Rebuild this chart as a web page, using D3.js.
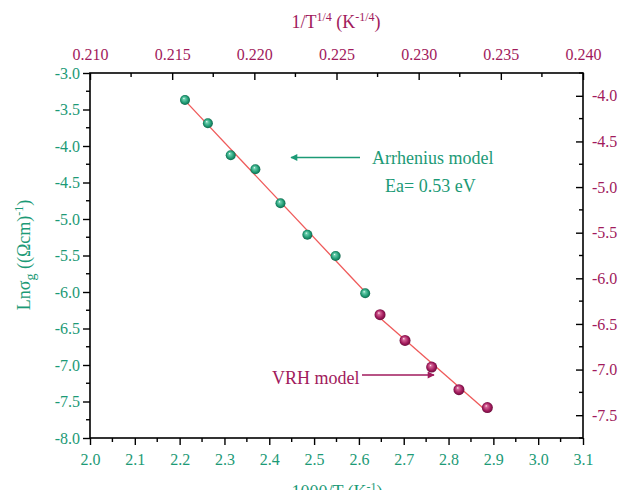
<!DOCTYPE html>
<html>
<head>
<meta charset="utf-8">
<script src="https://cdn.jsdelivr.net/npm/d3@7"></script>
<style>
  html, body { margin: 0; padding: 0; background: #fff; }
  svg { display: block; font-family: "Liberation Serif", "Times New Roman", serif; }
</style>
</head>
<body>
<svg id="chart" width="619" height="490"></svg>
<script>
// Arrhenius regime: 1000/T (K^-1) vs ln(sigma_g)
const arrX = [2.212, 2.263, 2.314, 2.369, 2.425, 2.485, 2.548, 2.614];
const arrY = [-3.370, -3.689, -4.127, -4.319, -4.785, -5.215, -5.507, -6.018];
// VRH regime: T^-1/4 (K^-1/4) vs ln(sigma_g)
const vrhX = [0.22765, 0.22917, 0.23079, 0.23245, 0.23418];
const vrhY = [-6.399, -6.681, -6.973, -7.220, -7.417];

const bottomTicks = [2.0, 2.1, 2.2, 2.3, 2.4, 2.5, 2.6, 2.7, 2.8, 2.9, 3.0, 3.1];
const topTicks = [0.210, 0.215, 0.220, 0.225, 0.230, 0.235, 0.240];
const leftTicks = [-3.0, -3.5, -4.0, -4.5, -5.0, -5.5, -6.0, -6.5, -7.0, -7.5, -8.0];
const rightTicks = [-4.0, -4.5, -5.0, -5.5, -6.0, -6.5, -7.0, -7.5];

const GREEN = "#1c9a76";
const PURPLE = "#a11a5c";
const RED = "#ef5a5a";

const svg = d3.select("#chart");
const m = { left: 90, right: 583, top: 73, bottom: 438 };

const xB = d3.scaleLinear().domain([2.0, 3.1]).range([m.left, m.right]);
const xT = d3.scaleLinear().domain([0.210, 0.240]).range([m.left, m.right]);
const yL = d3.scaleLinear().domain([-8.0, -3.0]).range([m.bottom, m.top]);
const yR = d3.scaleLinear().domain([-7.75, -3.75]).range([m.bottom, m.top]);

const defs = svg.append("defs");
function sphere(id, light, base, dark) {
  const g = defs.append("radialGradient").attr("id", id)
    .attr("cx", "0.5").attr("cy", "0.5").attr("r", "0.55")
    .attr("fx", "0.38").attr("fy", "0.33");
  g.append("stop").attr("offset", "0").attr("stop-color", "#ffffff");
  g.append("stop").attr("offset", "0.18").attr("stop-color", light);
  g.append("stop").attr("offset", "0.65").attr("stop-color", base);
  g.append("stop").attr("offset", "1").attr("stop-color", dark);
}
sphere("gSphere", "#6fd0b0", "#1f9a73", "#0c5a42");
sphere("pSphere", "#d86a9a", "#a11a5c", "#5e0b35");

function arrowHead(id, color) {
  defs.append("marker").attr("id", id)
    .attr("viewBox", "0 0 10 10").attr("refX", 9).attr("refY", 5)
    .attr("markerWidth", 9).attr("markerHeight", 7)
    .attr("markerUnits", "userSpaceOnUse")
    .attr("orient", "auto")
    .append("path").attr("d", "M0,0 L10,5 L0,10 Z").attr("fill", color);
}
arrowHead("arrG", GREEN);
arrowHead("arrP", PURPLE);

// Axes
function styleAxis(g, color) {
  g.attr("font-family", "'Liberation Serif', serif").attr("font-size", 16);
  g.select(".domain").remove();
  g.selectAll(".tick line").attr("stroke", "#000").attr("stroke-width", 1.4);
  g.selectAll(".tick text").attr("fill", color);
}
const hyph = f => v => f(v).replace("\u2212", "-");
const fmt1 = hyph(d3.format(".1f")), fmt3 = hyph(d3.format(".3f"));
const minor = (a, b, s) => d3.range(a, b + s / 2, s);

// minor ticks
const minorB = minor(2.0, 3.1, 0.05).filter(v => Math.abs(v * 10 - Math.round(v * 10)) > 1e-6);
svg.append("g").selectAll("line").data(minorB).join("line")
  .attr("x1", d => xB(d)).attr("x2", d => xB(d)).attr("y1", m.bottom).attr("y2", m.bottom + 4)
  .attr("stroke", "#000").attr("stroke-width", 1.4);
const minorT = minor(0.210, 0.240, 0.0025).filter(v => Math.abs(v * 200 - Math.round(v * 200)) > 1e-6);
svg.append("g").selectAll("line").data(minorT).join("line")
  .attr("x1", d => xT(d)).attr("x2", d => xT(d)).attr("y1", m.top).attr("y2", m.top + 4)
  .attr("stroke", "#000").attr("stroke-width", 1.4);
const minorL = minor(-8.0, -3.0, 0.25).filter(v => Math.abs(v * 2 - Math.round(v * 2)) > 1e-6);
svg.append("g").selectAll("line").data(minorL).join("line")
  .attr("x1", m.left - 4).attr("x2", m.left).attr("y1", d => yL(d)).attr("y2", d => yL(d))
  .attr("stroke", "#000").attr("stroke-width", 1.4);
const minorR = minor(-7.75, -3.75, 0.25).filter(v => Math.abs(v * 2 - Math.round(v * 2)) > 1e-6);
svg.append("g").selectAll("line").data(minorR).join("line")
  .attr("x1", m.right - 4).attr("x2", m.right).attr("y1", d => yR(d)).attr("y2", d => yR(d))
  .attr("stroke", "#000").attr("stroke-width", 1.4);

// major ticks
const gB = svg.append("g").attr("transform", `translate(0,${m.bottom})`)
  .call(d3.axisBottom(xB).tickValues(bottomTicks).tickFormat(fmt1).tickSize(7).tickPadding(9));
styleAxis(gB, GREEN);
const gT = svg.append("g").attr("transform", `translate(0,${m.top})`)
  .call(d3.axisTop(xT).tickValues(topTicks).tickFormat(fmt3).tickSize(-7).tickPadding(13));
styleAxis(gT, PURPLE);
const gL = svg.append("g").attr("transform", `translate(${m.left},0)`)
  .call(d3.axisLeft(yL).tickValues(leftTicks).tickFormat(fmt1).tickSize(7).tickPadding(3));
styleAxis(gL, GREEN);
const gR = svg.append("g").attr("transform", `translate(${m.right},0)`)
  .call(d3.axisRight(yR).tickValues(rightTicks).tickFormat(fmt1).tickSize(-7).tickPadding(9));
styleAxis(gR, PURPLE);

// frame
svg.append("rect").attr("x", m.left).attr("y", m.top)
  .attr("width", m.right - m.left).attr("height", m.bottom - m.top)
  .attr("fill", "none").attr("stroke", "#000").attr("stroke-width", 1.6);

// least-squares fit drawn over each data range
function fit(xs, ys) {
  const mx = d3.mean(xs), my = d3.mean(ys);
  const b = d3.sum(xs, (x, i) => (x - mx) * (ys[i] - my)) / d3.sum(xs, x => (x - mx) ** 2);
  const a = my - b * mx;
  const x0 = d3.min(xs), x1 = d3.max(xs);
  return [[x0, a + b * x0], [x1, a + b * x1]];
}
const fA = fit(arrX, arrY), fV = fit(vrhX, vrhY);
svg.append("line")
  .attr("x1", xB(fA[0][0])).attr("y1", yL(fA[0][1]))
  .attr("x2", xB(fA[1][0])).attr("y2", yL(fA[1][1]))
  .attr("stroke", RED).attr("stroke-width", 1.3);
svg.append("line")
  .attr("x1", xT(fV[0][0])).attr("y1", yR(fV[0][1]))
  .attr("x2", xT(fV[1][0])).attr("y2", yR(fV[1][1]))
  .attr("stroke", RED).attr("stroke-width", 1.3);

// data markers
svg.append("g").selectAll("circle").data(arrX).join("circle")
  .attr("cx", d => xB(d)).attr("cy", (d, i) => yL(arrY[i])).attr("r", 5)
  .attr("fill", "url(#gSphere)");
svg.append("g").selectAll("circle").data(vrhX).join("circle")
  .attr("cx", d => xT(d)).attr("cy", (d, i) => yR(vrhY[i])).attr("r", 5.5)
  .attr("fill", "url(#pSphere)");

// annotations
svg.append("line").attr("x1", 360).attr("y1", 157.5).attr("x2", 291).attr("y2", 157.5)
  .attr("stroke", GREEN).attr("stroke-width", 1.4).attr("marker-end", "url(#arrG)");
svg.append("text").attr("x", 372).attr("y", 164).attr("fill", GREEN)
  .style("font-size", "18px").text("Arrhenius model");
svg.append("text").attr("x", 385).attr("y", 192).attr("fill", GREEN)
  .style("font-size", "18px").text("Ea= 0.53 eV");

svg.append("line").attr("x1", 362).attr("y1", 375).attr("x2", 434).attr("y2", 375)
  .attr("stroke", PURPLE).attr("stroke-width", 1.4).attr("marker-end", "url(#arrP)");
svg.append("text").attr("x", 272).attr("y", 384).attr("fill", PURPLE)
  .style("font-size", "18px").text("VRH model");

// axis titles
const tTop = svg.append("text").attr("x", 336).attr("y", 28).attr("text-anchor", "middle")
  .attr("fill", PURPLE).style("font-size", "18px");
tTop.append("tspan").text("1/T");
tTop.append("tspan").attr("dy", -7).style("font-size", "12px").text("1/4");
tTop.append("tspan").attr("dy", 7).text(" (K");
tTop.append("tspan").attr("dy", -7).style("font-size", "12px").text("-1/4");
tTop.append("tspan").attr("dy", 7).text(")");

const tBot = svg.append("text").attr("x", 337).attr("y", 498).attr("text-anchor", "middle")
  .attr("fill", GREEN).style("font-size", "18px");
tBot.append("tspan").text("1000/T (K");
tBot.append("tspan").attr("dy", -7).style("font-size", "12px").text("-1");
tBot.append("tspan").attr("dy", 7).text(")");

const tL = svg.append("text").attr("transform", "translate(30,255) rotate(-90)")
  .attr("text-anchor", "middle").attr("fill", GREEN).style("font-size", "18px");
tL.append("tspan").text("Lnσ");
tL.append("tspan").attr("dy", 5).style("font-size", "14px").text("g");
tL.append("tspan").attr("dy", -5).text(" ((Ωcm)");
tL.append("tspan").attr("dy", -7).style("font-size", "12px").text("-1");
tL.append("tspan").attr("dy", 7).text(")");
</script>
</body>
</html>
